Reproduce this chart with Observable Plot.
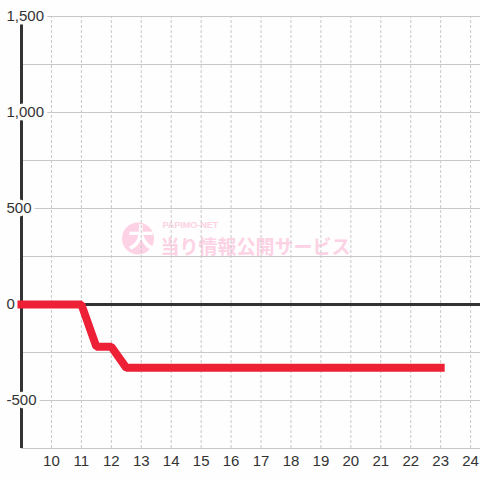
<!DOCTYPE html>
<html>
<head>
<meta charset="utf-8">
<script src="https://cdn.jsdelivr.net/npm/d3@7"></script>
<script src="https://cdn.jsdelivr.net/npm/@observablehq/plot@0.6"></script>
<style>
  html, body { margin: 0; padding: 0; background: #fdfefd; }
  #chart { width: 480px; height: 480px; }
</style>
</head>
<body>
<div id="chart"></div>
<script>
// Data (hour of day vs. cumulative balance)
const hours = [9, 11, 11.5, 12, 12.5, 23];
const balance = [0, 0, -220, -220, -330, -330];

// Axis ticks
const xTicks = [10, 11, 12, 13, 14, 15, 16, 17, 18, 19, 20, 21, 22, 23, 24];
const yTickValues = [1500, 1000, 500, 0, -500];
const yTickLabels = ["1,500", "1,000", "500", "0", "-500"];
const yGridValues = [1500, 1250, 1000, 750, 500, 250, -250, -500, -750];

// Watermark text
const wmBrand = "PAPIMO-NET";
const wmTitle = "当り情報公開サービス";
const wmMark = "大";

const series = hours.map((h, i) => ({hour: h, value: balance[i]}));
const yTicks = yTickValues.map((v, i) => ({value: v, label: yTickLabels[i]}));

const FONT = "Liberation Sans, Arial, sans-serif";
const BG = "#fdfefd";
const INK = "#333333";
const PINK = "#fcd2e4";

const chart = Plot.plot({
  width: 480,
  height: 480,
  marginLeft: 21,
  marginRight: 0,
  marginTop: 16,
  marginBottom: 32,
  style: {background: BG, fontFamily: FONT},
  x: {domain: [9, 24.33], axis: null},
  y: {domain: [-750, 1500], axis: null},
  marks: [
    // watermark
    Plot.dot([wmMark], {frameAnchor: "middle", dx: -113, dy: 6, r: 16, fill: PINK, stroke: "none"}),
    Plot.text([wmMark], {frameAnchor: "middle", dx: -110, dy: 6, text: d => d, fill: "white", fontSize: 26, fontWeight: "bold", fontFamily: "Noto Sans CJK JP"}),
    Plot.text([wmBrand], {frameAnchor: "middle", dx: -88.5, dy: -7, text: d => d, textAnchor: "start", fill: PINK, fontSize: 9, fontWeight: "bold", fontFamily: FONT}),
    Plot.text([wmTitle], {frameAnchor: "middle", dx: -90.5, dy: 15, text: d => d, textAnchor: "start", fill: PINK, fontSize: 19, fontWeight: "bold", fontFamily: "Noto Sans CJK JP"}),
    // grid
    Plot.ruleX(xTicks, {x: d => d, y1: -750, y2: 1500, stroke: "#c8c8c8", strokeWidth: 1, strokeDasharray: "3,2"}),
    Plot.ruleY(yGridValues, {y: d => d, x1: 9, x2: 24.33, stroke: "#c8c8c8", strokeWidth: 1}),
    // zero line and left axis line
    Plot.ruleY([0], {y: d => d, x1: 9, x2: 24.33, stroke: INK, strokeWidth: 3}),
    Plot.ruleX([9], {x: d => d, y1: -750, y2: 1500, stroke: INK, strokeWidth: 3}),
    // y tick labels with halo
    Plot.text(yTicks, {x: 9, y: "value", text: "label", textAnchor: "start", dx: -15, fill: INK, stroke: BG, strokeWidth: 7, paintOrder: "stroke", fontSize: 15, fontFamily: FONT}),
    // x tick labels
    Plot.text(xTicks, {x: d => d, y: -750, dy: 13, text: d => String(d), fill: INK, fontSize: 15, fontFamily: FONT}),
    // data line
    Plot.line(series, {x: "hour", y: "value", stroke: "#ed2036", strokeWidth: 8, strokeLinecap: "square", strokeLinejoin: "miter", curve: "linear"})
  ]
});

document.getElementById("chart").appendChild(chart);
</script>
</body>
</html>
